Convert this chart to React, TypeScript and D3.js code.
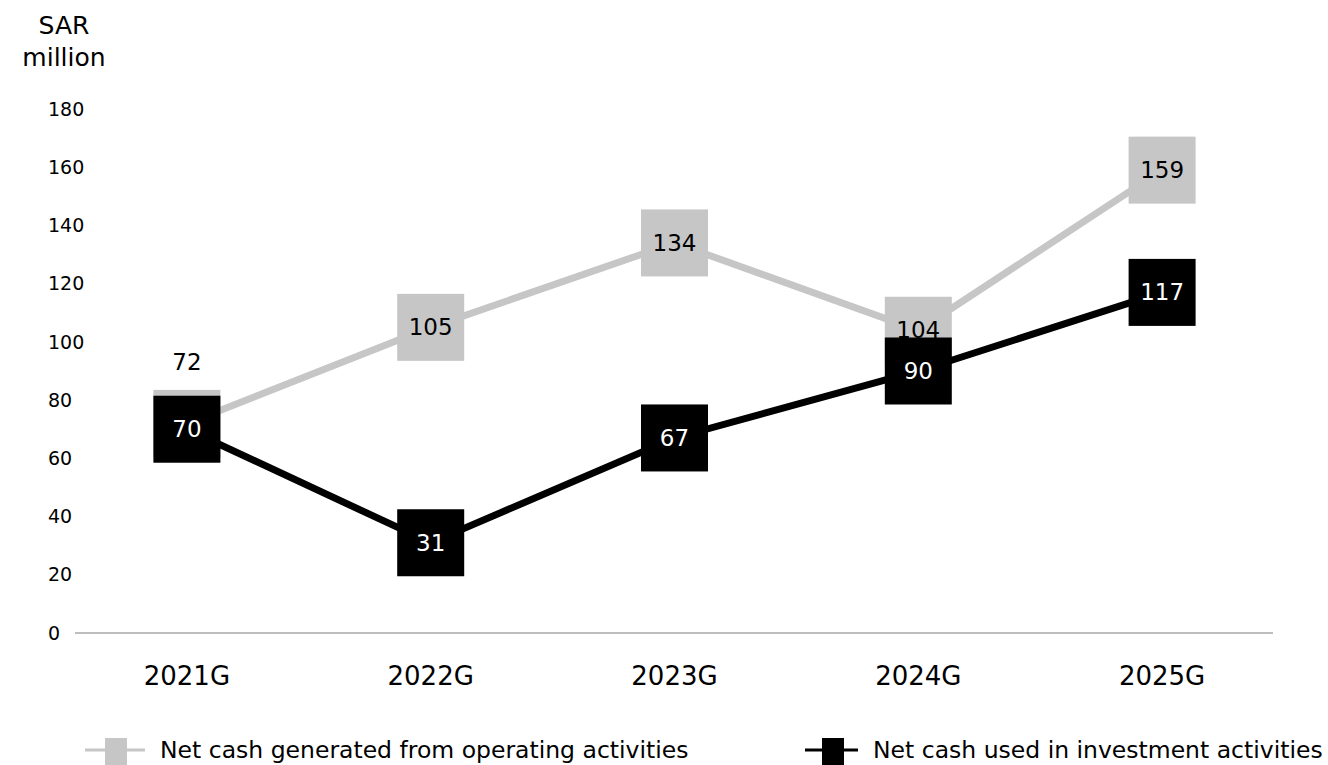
import React from "react";
import * as d3 from "d3";

const categories = ["2021G", "2022G", "2023G", "2024G", "2025G"];
const operating = [72, 105, 134, 104, 159];
const investment = [70, 31, 67, 90, 117];
const yTicks = [0, 20, 40, 60, 80, 100, 120, 140, 160, 180];
const seriesNames = [
  "Net cash generated from operating activities",
  "Net cash used in investment activities",
];
const labelAboveIndexOperating = [0];

const W = 1328;
const H = 765;
const FONT = "'DejaVu Sans', sans-serif";
const GREY = "#c6c6c6";
const BLACK = "#000000";
const BOX = 67;

export default function App() {
  const x = d3.scalePoint<string>().domain(categories).range([65, 1284]).padding(0.5);
  const y = d3.scaleLinear().domain([0, 180]).range([633, 109]);
  const line = d3
    .line<number>()
    .x((_, i) => x(categories[i]) as number)
    .y((d) => y(d));

  const series = [
    { values: operating, color: GREY, text: "#000", above: labelAboveIndexOperating },
    { values: investment, color: BLACK, text: "#fff", above: [] as number[] },
  ];

  return (
    <div style={{ position: "absolute", left: 0, top: 0 }}>
      <svg width={W} height={H} style={{ display: "block" }} fontFamily={FONT}>
        <rect width={W} height={H} fill="#fff" />
        <text x={64} y={34} fontSize={25} textAnchor="middle" fill="#000">SAR</text>
        <text x={64} y={66} fontSize={25} textAnchor="middle" fill="#000">million</text>
        {yTicks.map((t) => (
          <text key={t} x={48} y={y(t)} dy="0.35em" fontSize={19} fill="#000">
            {t}
          </text>
        ))}
        <line x1={75} x2={1273} y1={y(0)} y2={y(0)} stroke="#bdbdbd" strokeWidth={2} />
        {categories.map((c) => (
          <text key={c} x={x(c)} y={685} fontSize={26} textAnchor="middle" fill="#000">
            {c}
          </text>
        ))}
        {series.map((s, si) => (
          <g key={si}>
            <path d={line(s.values) as string} fill="none" stroke={s.color} strokeWidth={7} />
            {s.values.map((v, i) => (
              <rect
                key={i}
                x={(x(categories[i]) as number) - BOX / 2}
                y={y(v) - BOX / 2}
                width={BOX}
                height={BOX}
                fill={s.color}
              />
            ))}
            {s.values.map((v, i) => {
              const above = s.above.includes(i);
              return (
                <text
                  key={"l" + i}
                  x={x(categories[i]) as number}
                  y={above ? y(v) - BOX / 2 - 28 : y(v)}
                  dy="0.35em"
                  fontSize={23}
                  textAnchor="middle"
                  fill={above ? "#000" : s.text}
                >
                  {v}
                </text>
              );
            })}
          </g>
        ))}
        {/* Legend */}
        <g>
          <line x1={85} x2={145} y1={750} y2={750} stroke={GREY} strokeWidth={3} />
          <rect x={105} y={738} width={22} height={27} fill={GREY} />
          <text x={160} y={758} fontSize={23.5} fill="#000">{seriesNames[0]}</text>
          <line x1={805} x2={858} y1={750} y2={750} stroke={BLACK} strokeWidth={3} />
          <rect x={822} y={738} width={22} height={27} fill={BLACK} />
          <text x={873} y={758} fontSize={23.5} fill="#000">{seriesNames[1]}</text>
        </g>
      </svg>
    </div>
  );
}
